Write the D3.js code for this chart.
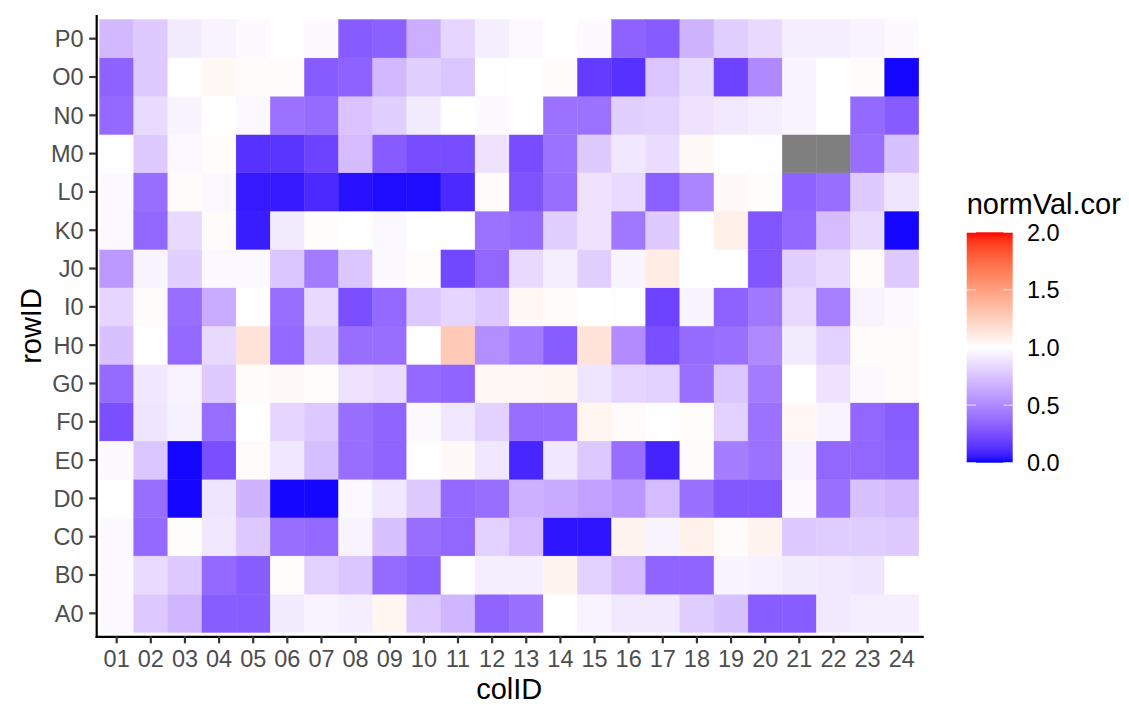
<!DOCTYPE html>
<html>
<head>
<meta charset="utf-8">
<script src="https://cdn.jsdelivr.net/npm/d3@7"></script>
<style>
  html, body { margin: 0; padding: 0; background: #ffffff; }
  svg { display: block; font-family: "Liberation Sans", Arial, Helvetica, sans-serif; }
</style>
</head>
<body>
<svg id="chart" width="1129" height="705"></svg>
<script>
// ---- categories ----
const colIDs = ["01","02","03","04","05","06","07","08","09","10","11","12",
                "13","14","15","16","17","18","19","20","21","22","23","24"];
const rowIDs = ["A0","B0","C0","D0","E0","F0","G0","H0","I0","J0","K0","L0","M0","N0","O0","P0"];

// ---- values per row (cols 01..24), null = NA ----
const rowP0 = [0.70,0.78,0.92,0.95,0.98,1.00,0.98,0.30, 0.32,0.66,0.83,0.93,0.97,1.00,0.98,0.33, 0.30,0.68,0.80,0.84,0.93,0.93,0.95,0.98];
const rowO0 = [0.33,0.78,1.00,1.04,1.02,1.02,0.30,0.33, 0.70,0.80,0.76,0.99,1.00,1.02,0.17,0.13, 0.76,0.84,0.20,0.50,0.96,1.00,1.02,0.01];
const rowN0 = [0.36,0.85,0.96,1.00,0.97,0.40,0.37,0.75, 0.80,0.92,1.00,0.98,1.00,0.40,0.40,0.80, 0.81,0.88,0.91,0.93,0.96,1.00,0.36,0.30];
const rowM0 = [0.99,0.78,0.97,1.01,0.13,0.14,0.20,0.72, 0.30,0.24,0.24,0.88,0.24,0.40,0.78,0.90, 0.86,1.03,1.00,0.99,null,null,0.38,0.74];
const rowL0 = [0.97,0.38,1.02,0.97,0.05,0.05,0.10,0.03, 0.02,0.02,0.10,1.02,0.27,0.38,0.88,0.85, 0.32,0.48,1.03,1.01,0.33,0.38,0.78,0.89];
const rowK0 = [0.97,0.35,0.84,1.02,0.06,0.92,1.01,1.00, 0.97,1.00,1.00,0.40,0.37,0.80,0.88,0.42, 0.78,0.99,1.08,0.28,0.35,0.72,0.84,0.01];
const rowJ0 = [0.57,0.96,0.80,0.97,0.97,0.76,0.44,0.76, 0.98,1.01,0.22,0.35,0.84,0.93,0.80,0.96, 1.10,0.99,1.00,0.28,0.80,0.84,1.02,0.78];
const rowI0 = [0.83,1.02,0.38,0.65,0.99,0.38,0.84,0.25, 0.36,0.77,0.83,0.77,1.04,1.02,1.00,0.99, 0.20,0.96,0.33,0.42,0.84,0.46,0.95,0.98];
const rowH0 = [0.74,1.00,0.36,0.84,1.15,0.36,0.78,0.38, 0.38,1.00,1.28,0.52,0.44,0.31,1.15,0.51, 0.25,0.37,0.39,0.50,0.92,0.81,1.02,1.02];
const rowG0 = [0.37,0.90,0.95,0.78,1.02,1.03,1.01,0.88, 0.86,0.36,0.34,1.04,1.04,1.05,0.89,0.83, 0.81,0.39,0.76,0.44,1.00,0.88,0.98,1.02];
const rowF0 = [0.25,0.89,0.94,0.38,1.00,0.83,0.77,0.38, 0.34,0.98,0.90,0.81,0.38,0.38,1.05,1.02, 0.99,1.01,0.81,0.40,1.04,0.95,0.35,0.31];
const rowE0 = [0.98,0.76,0.01,0.25,1.02,0.90,0.73,0.38, 0.34,0.99,1.03,0.90,0.09,0.90,0.77,0.38, 0.08,1.02,0.45,0.40,0.95,0.35,0.35,0.32];
const rowD0 = [1.00,0.38,0.01,0.89,0.68,0.01,0.01,0.97, 0.90,0.78,0.36,0.38,0.67,0.64,0.60,0.56, 0.72,0.39,0.29,0.29,0.98,0.39,0.74,0.71];
const rowC0 = [0.97,0.36,1.01,0.90,0.77,0.38,0.36,0.95, 0.74,0.38,0.35,0.81,0.72,0.04,0.04,1.06, 0.96,1.07,1.02,1.06,0.77,0.79,0.79,0.78];
const rowB0 = [0.97,0.85,0.78,0.36,0.31,1.01,0.81,0.76, 0.37,0.32,0.99,0.93,0.93,1.06,0.81,0.72, 0.34,0.34,0.96,0.94,0.92,0.91,0.89,1.00];
const rowA0 = [0.97,0.77,0.69,0.31,0.31,0.92,0.95,0.93, 1.05,0.77,0.69,0.34,0.39,1.00,0.95,0.91, 0.91,0.79,0.74,0.31,0.31,0.91,0.93,0.93];

const legendBreaks = [0, 0.5, 1, 1.5, 2];
const legendLabels = ["0.0", "0.5", "1.0", "1.5", "2.0"];

// ---- build table ----
const rowsByID = {A0: rowA0, B0: rowB0, C0: rowC0, D0: rowD0, E0: rowE0, F0: rowF0, G0: rowG0, H0: rowH0,
                  I0: rowI0, J0: rowJ0, K0: rowK0, L0: rowL0, M0: rowM0, N0: rowN0, O0: rowO0, P0: rowP0};
const cells = [];
rowIDs.forEach(r => rowsByID[r].forEach((v, i) => cells.push({row: r, col: colIDs[i], value: v})));

// ---- layout ----
const panel = {left: 96.2, right: 922.2, top: 15.7, bottom: 636.3};
const svg = d3.select("#chart");
svg.append("rect").attr("width", 1129).attr("height", 705).attr("fill", "#ffffff");

const x = d3.scaleBand().domain(colIDs).range([panel.left, panel.right])
  .paddingInner(0).paddingOuter(0.1);
const y = d3.scaleBand().domain(rowIDs).range([panel.bottom, panel.top])
  .paddingInner(0).paddingOuter(0.1);

const color = d3.scaleLinear().domain([0, 1, 2])
  .range(["#0000FF", "#FFFFFF", "#FF0000"])
  .interpolate(d3.interpolateLab).clamp(true);
const naColor = "#7F7F7F";

// tiles
svg.append("g").selectAll("rect").data(cells).join("rect")
  .attr("x", d => x(d.col))
  .attr("y", d => y(d.row))
  .attr("width", x.bandwidth())
  .attr("height", y.bandwidth())
  .attr("fill", d => d.value == null ? naColor : color(d.value))
  .attr("stroke", d => d.value == null ? naColor : color(d.value))
  .attr("stroke-width", 0.4);

// axes
const axisFont = 23.5, titleFont = 29;
const xAxis = svg.append("g")
  .attr("transform", `translate(0,${panel.bottom})`)
  .call(d3.axisBottom(x).tickSize(7).tickSizeOuter(0).tickPadding(7.5));
const yAxis = svg.append("g")
  .attr("transform", `translate(${panel.left},0)`)
  .call(d3.axisLeft(y).tickSize(7).tickSizeOuter(0).tickPadding(5.6));

[xAxis, yAxis].forEach(g => {
  g.select(".domain").attr("stroke", "#000000").attr("stroke-width", 2.2)
    .attr("stroke-linecap", "square");
  g.selectAll(".tick line").attr("stroke", "#333333").attr("stroke-width", 2.2);
  g.selectAll(".tick text").attr("fill", "#4D4D4D")
    .style("font-size", axisFont + "px")
    .style("font-family", '"Liberation Sans", Arial, Helvetica, sans-serif');
});
yAxis.selectAll(".tick text").attr("dy", "0.36em");

// axis titles
svg.append("text")
  .attr("x", (panel.left + panel.right) / 2).attr("y", 699)
  .attr("text-anchor", "middle").attr("fill", "#000000")
  .style("font-size", titleFont + "px").text("colID");
svg.append("text")
  .attr("transform", `translate(41,${(panel.top + panel.bottom) / 2}) rotate(-90)`)
  .attr("text-anchor", "middle").attr("fill", "#000000")
  .style("font-size", titleFont + "px").text("rowID");

// legend
const bar = {x: 966.7, y0: 232.3, y1: 462.7, w: 46};
const lg = svg.append("g");
const lScale = d3.scaleLinear().domain([0, 2]).range([bar.y1, bar.y0]);
const defs = svg.append("defs");
const grad = defs.append("linearGradient").attr("id", "lgrad")
  .attr("x1", 0).attr("y1", 1).attr("x2", 0).attr("y2", 0);
d3.range(0, 2.0001, 0.05).forEach(v => {
  grad.append("stop").attr("offset", v / 2).attr("stop-color", color(v));
});
lg.append("rect").attr("x", bar.x).attr("y", bar.y0)
  .attr("width", bar.w).attr("height", bar.y1 - bar.y0)
  .attr("fill", "url(#lgrad)");
legendBreaks.forEach((b, i) => {
  const yy = lScale(b);
  lg.append("line").attr("x1", bar.x).attr("x2", bar.x + bar.w / 5)
    .attr("y1", yy).attr("y2", yy).attr("stroke", "#ffffff").attr("stroke-opacity", 0.8).attr("stroke-width", 1);
  lg.append("line").attr("x1", bar.x + bar.w * 4 / 5).attr("x2", bar.x + bar.w)
    .attr("y1", yy).attr("y2", yy).attr("stroke", "#ffffff").attr("stroke-opacity", 0.8).attr("stroke-width", 1);
  lg.append("text").attr("x", 1027).attr("y", yy).attr("dy", "0.36em")
    .attr("fill", "#000000").style("font-size", axisFont + "px").text(legendLabels[i]);
});
lg.append("text").attr("x", bar.x).attr("y", 214)
  .attr("fill", "#000000").style("font-size", titleFont + "px").text("normVal.cor");
</script>
</body>
</html>
